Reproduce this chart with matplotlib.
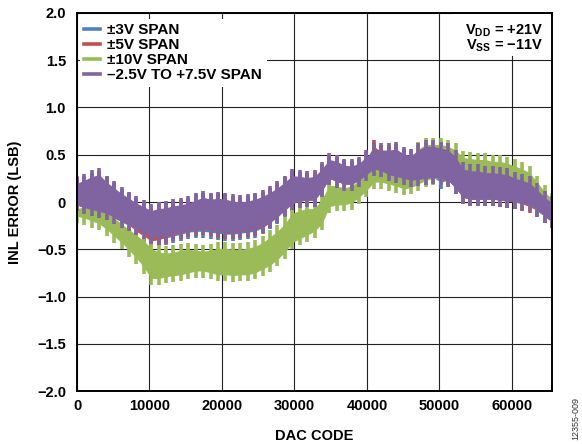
import numpy as np
import matplotlib
matplotlib.use('Agg')
import matplotlib.pyplot as plt
from matplotlib.patches import Rectangle

plt.rcParams['font.family'] = ['Liberation Sans', 'DejaVu Sans']
plt.rcParams['font.weight'] = 'bold'
plt.rcParams['axes.labelweight'] = 'bold'
plt.rcParams['mathtext.fontset'] = 'custom'
plt.rcParams['mathtext.bf'] = 'Liberation Sans:bold'
plt.rcParams['mathtext.rm'] = 'Liberation Sans:bold'

# DAC codes sampled every 1024 codes (one sawtooth period)
codes = [i * 1024 for i in range(65)]

# upper / lower envelope of each INL trace (LSB)
blue_upper = [0.25, 0.28, 0.31, 0.33, 0.26, 0.20, 0.14, 0.09, 0.04, 0.00,
              -0.04, -0.02, -0.01, 0.01, 0.02, 0.04, 0.07, 0.10, 0.08, 0.09,
              0.08, 0.06, 0.05, 0.06, 0.08, 0.11, 0.15, 0.20, 0.26, 0.33,
              0.32, 0.31, 0.32, 0.40, 0.50, 0.48, 0.44, 0.43, 0.46, 0.53,
              0.60, 0.60, 0.60, 0.61, 0.56, 0.54, 0.60, 0.64, 0.64, 0.62,
              0.60, 0.53, 0.40, 0.38, 0.38, 0.36, 0.36, 0.35, 0.34, 0.30,
              0.28, 0.25, 0.18, 0.10, 0.04]
blue_lower = [-0.10, -0.13, -0.15, -0.18, -0.20, -0.24, -0.28, -0.32, -0.36, -0.40,
              -0.45, -0.46, -0.45, -0.43, -0.41, -0.39, -0.38, -0.38, -0.39, -0.40,
              -0.41, -0.41, -0.40, -0.39, -0.38, -0.34, -0.29, -0.23, -0.16, -0.09,
              -0.06, -0.05, -0.05, 0.05, 0.18, 0.15, 0.12, 0.12, 0.16, 0.22,
              0.28, 0.26, 0.22, 0.20, 0.18, 0.16, 0.17, 0.18, 0.19, 0.14,
              0.16, 0.08, -0.02, -0.04, -0.04, -0.04, -0.04, -0.05, -0.06, -0.07,
              -0.08, -0.10, -0.16, -0.22, -0.28]

red_upper = [0.25, 0.28, 0.31, 0.33, 0.26, 0.20, 0.14, 0.09, 0.04, 0.00,
             -0.04, -0.02, -0.01, 0.01, 0.02, 0.04, 0.07, 0.10, 0.08, 0.09,
             0.08, 0.06, 0.05, 0.06, 0.08, 0.11, 0.15, 0.20, 0.26, 0.33,
             0.32, 0.31, 0.32, 0.40, 0.50, 0.48, 0.44, 0.43, 0.46, 0.53,
             0.66, 0.60, 0.60, 0.61, 0.56, 0.54, 0.60, 0.64, 0.64, 0.62,
             0.60, 0.53, 0.40, 0.38, 0.38, 0.36, 0.36, 0.35, 0.34, 0.30,
             0.28, 0.25, 0.18, 0.10, 0.04]
red_lower = [-0.10, -0.13, -0.15, -0.17, -0.19, -0.23, -0.27, -0.31, -0.38, -0.43,
             -0.48, -0.47, -0.44, -0.41, -0.39, -0.37, -0.36, -0.35, -0.36, -0.38,
             -0.39, -0.39, -0.38, -0.37, -0.36, -0.33, -0.28, -0.22, -0.15, -0.08,
             -0.06, -0.05, -0.05, 0.05, 0.18, 0.15, 0.12, 0.12, 0.16, 0.22,
             0.28, 0.26, 0.22, 0.20, 0.18, 0.16, 0.17, 0.18, 0.19, 0.18,
             0.16, 0.08, -0.02, -0.04, -0.04, -0.04, -0.04, -0.05, -0.06, -0.07,
             -0.09, -0.12, -0.16, -0.22, -0.28]

green_upper = [0.00, 0.02, 0.04, 0.02, -0.04, -0.10, -0.16, -0.22, -0.28, -0.34,
               -0.42, -0.46, -0.47, -0.46, -0.44, -0.43, -0.44, -0.45, -0.44, -0.42,
               -0.42, -0.43, -0.43, -0.42, -0.40, -0.36, -0.30, -0.24, -0.16, -0.05,
               -0.02, 0.00, 0.00, 0.10, 0.25, 0.24, 0.22, 0.24, 0.30, 0.38,
               0.50, 0.50, 0.50, 0.52, 0.50, 0.55, 0.63, 0.68, 0.68, 0.68,
               0.66, 0.62, 0.54, 0.53, 0.52, 0.52, 0.50, 0.50, 0.48, 0.45,
               0.42, 0.38, 0.28, 0.18, 0.10]
green_lower = [-0.22, -0.24, -0.27, -0.30, -0.36, -0.43, -0.50, -0.58, -0.66, -0.76,
               -0.88, -0.88, -0.86, -0.85, -0.84, -0.82, -0.80, -0.80, -0.82, -0.84,
               -0.84, -0.85, -0.84, -0.84, -0.82, -0.78, -0.74, -0.68, -0.60, -0.50,
               -0.46, -0.42, -0.38, -0.30, -0.12, -0.10, -0.10, -0.08, -0.02, 0.05,
               0.14, 0.14, 0.12, 0.10, 0.07, 0.08, 0.12, 0.16, 0.18, 0.18,
               0.16, 0.10, 0.02, 0.00, 0.00, -0.01, -0.02, -0.02, -0.04, -0.05,
               -0.07, -0.10, -0.16, -0.22, -0.28]

purple_upper = [0.27, 0.30, 0.34, 0.36, 0.28, 0.22, 0.16, 0.11, 0.06, 0.02,
                -0.02, 0.00, 0.01, 0.03, 0.04, 0.06, 0.09, 0.12, 0.10, 0.11,
                0.10, 0.08, 0.07, 0.08, 0.10, 0.13, 0.17, 0.22, 0.28, 0.35,
                0.34, 0.33, 0.34, 0.42, 0.52, 0.50, 0.46, 0.45, 0.48, 0.55,
                0.62, 0.62, 0.62, 0.63, 0.58, 0.56, 0.62, 0.66, 0.66, 0.64,
                0.62, 0.55, 0.42, 0.40, 0.40, 0.38, 0.38, 0.37, 0.36, 0.32,
                0.30, 0.27, 0.20, 0.12, 0.06]
purple_lower = [-0.10, -0.13, -0.15, -0.17, -0.19, -0.23, -0.27, -0.31, -0.35, -0.39,
                -0.44, -0.44, -0.42, -0.40, -0.38, -0.36, -0.35, -0.34, -0.35, -0.37,
                -0.38, -0.38, -0.37, -0.36, -0.35, -0.32, -0.27, -0.22, -0.15, -0.08,
                -0.06, -0.05, -0.05, 0.05, 0.18, 0.15, 0.12, 0.12, 0.16, 0.22,
                0.28, 0.26, 0.22, 0.20, 0.18, 0.16, 0.17, 0.18, 0.19, 0.18,
                0.16, 0.08, -0.02, -0.04, -0.04, -0.04, -0.04, -0.05, -0.06, -0.07,
                -0.08, -0.10, -0.16, -0.22, -0.28]

labels = ['±3V SPAN', '±5V SPAN', '±10V SPAN', '–2.5V TO +7.5V SPAN']
colors = ['#4F81BD', '#C0504D', '#9BBB59', '#8064A2']
uppers = [blue_upper, red_upper, green_upper, purple_upper]
lowers = [blue_lower, red_lower, green_lower, purple_lower]

xticks = [0, 10000, 20000, 30000, 40000, 50000, 60000]
yticks = [-2.0, -1.5, -1.0, -0.5, 0, 0.5, 1.0, 1.5, 2.0]
ytick_labels = ['−2.0', '−1.5', '−1.0', '−0.5', '0', '0.5', '1.0', '1.5', '2.0']

fig = plt.figure(figsize=(5.82, 4.44), dpi=100)
ax = fig.add_axes([77 / 582, 1 - 391 / 444, 475 / 582, 378 / 444])

tooth = 0.07  # depth of the code-to-code teeth on each band edge
for up, lo, c, lab in zip(uppers, lowers, colors, labels):
    up = np.array(up)
    lo = np.array(lo)
    ax.fill_between(codes, lo + tooth, up - tooth, color=c, lw=0, zorder=2)
    ax.vlines(codes, lo, up, color=c, lw=2.6, zorder=2)
    ax.plot([], [], color=c, lw=2.6, label=lab)

ax.set_xlim(0, 65535)
ax.set_ylim(-2, 2)
ax.set_xticks(xticks)
ax.set_yticks(yticks)
ax.set_yticklabels(ytick_labels)
ax.tick_params(length=0, labelsize=10.5)
ax.tick_params(axis='x', pad=6)
ax.tick_params(axis='y', pad=8)
ax.grid(True, color='#222222', lw=0.8)
ax.set_axisbelow(True)
for s in ax.spines.values():
    s.set_linewidth(1.4)

ax.set_xlabel('DAC CODE', fontsize=10.5)
ax.set_ylabel('INL ERROR (LSB)', fontsize=10.5)
ax.xaxis.set_label_coords(0.5, -0.1)
ax.yaxis.set_label_coords(-0.115, 0.5)

leg = ax.legend(loc='upper left', bbox_to_anchor=(0.006, 0.985), borderaxespad=0,
                fontsize=11, frameon=True, fancybox=False, framealpha=1,
                edgecolor='none', borderpad=0.3, labelspacing=0.06,
                handlelength=1.05, handletextpad=0.45)
leg.set_zorder(5)

# white box behind the supply annotation
ax.add_patch(Rectangle((0.79, 0.885), 0.205, 0.113, transform=ax.transAxes,
                       facecolor='white', edgecolor='none', zorder=4))
ax.text(0.981, 0.975, r'V$_\mathbf{DD}$ = +21V', transform=ax.transAxes,
        ha='right', va='top', fontsize=10.5, zorder=5)
ax.text(0.981, 0.935, r'V$_\mathbf{SS}$ = −11V', transform=ax.transAxes,
        ha='right', va='top', fontsize=10.5, zorder=5)

fig.text(576 / 582, 1 - 418 / 444, '12355-009', rotation=90, ha='center',
         va='center', fontsize=6.5, fontweight='normal', color='#333333')

fig.savefig('out.png', dpi=100)
